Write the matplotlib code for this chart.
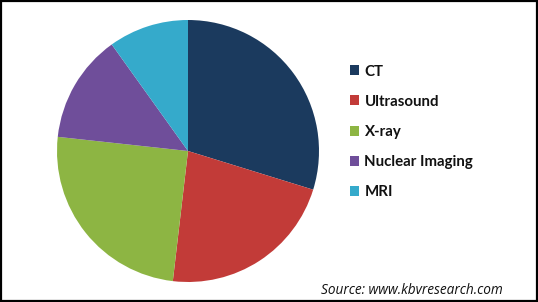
import matplotlib
matplotlib.use("Agg")
import matplotlib.pyplot as plt
from matplotlib.patches import Rectangle

categories = ["CT", "Ultrasound", "X-ray", "Nuclear Imaging", "MRI"]
values = [29.8, 22.1, 24.9, 13.4, 9.9]
colors = ["#1B3A5E", "#C23B38", "#8DB543", "#6F4E9A", "#35AACB"]

W, H = 538, 302
fig = plt.figure(figsize=(W/100, H/100), dpi=100)
fig.patch.set_facecolor("white")

cx, cy, r = 188, 151, 131
ax = fig.add_axes([(cx - r)/W, (H - cy - r)/H, 2*r/W, 2*r/H])
wedges, _ = ax.pie(values, colors=colors, startangle=90, counterclock=False,
                   radius=1, wedgeprops=dict(linewidth=0))
ax.set_xlim(-1, 1)
ax.set_ylim(-1, 1)
ax.set_aspect("equal")
ax.axis("off")

leg = fig.legend(wedges, categories, loc="upper left",
                 bbox_to_anchor=(336/W, 1 - 51/H), frameon=False,
                 handlelength=0.65, handleheight=0.65, handletextpad=0.35,
                 labelspacing=1.08,
                 prop=dict(family="Lato", weight="bold", size=10.8))
for t in leg.get_texts():
    t.set_color("#111111")

fig.text(503/W, 1 - 291/H, "Source: www.kbvresearch.com", ha="right", va="center",
         fontsize=9.8, style="italic", family="Open Sans", color="#111111")

fig.patches.append(Rectangle((0.002, 0.003), 0.996, 0.994, transform=fig.transFigure,
                             fill=False, edgecolor="black", linewidth=1.6))

fig.savefig("out.png", dpi=100)
